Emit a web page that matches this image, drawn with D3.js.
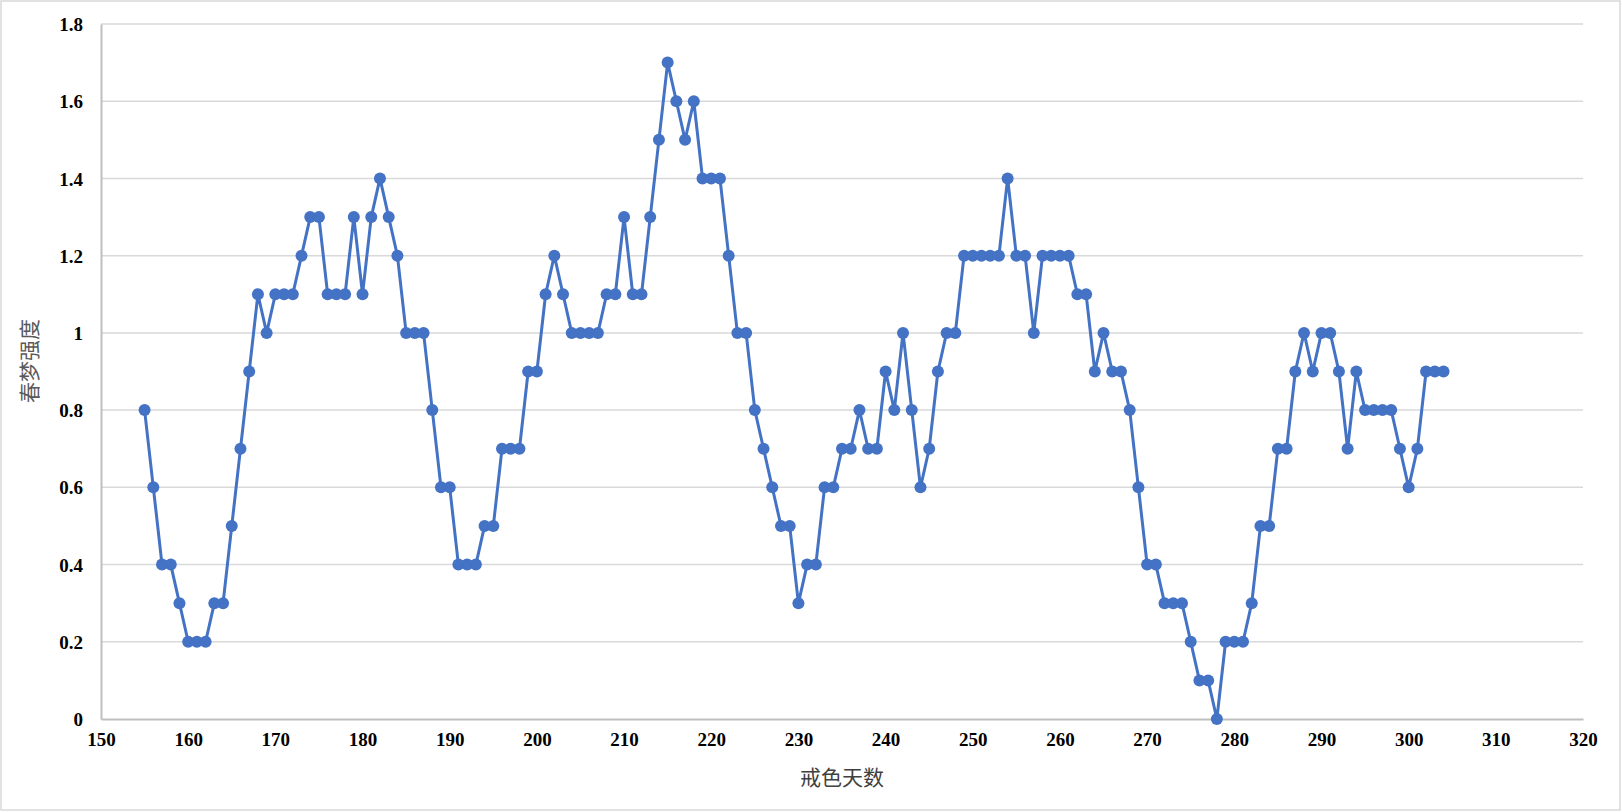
<!DOCTYPE html>
<html>
<head>
<meta charset="utf-8">
<script src="https://cdn.jsdelivr.net/npm/d3@7"></script>
<style>
    html, body { margin: 0; padding: 0; background: #fff; }
    svg { display: block; }
</style>
</head>
<body>
<svg id="chart"></svg>
<script>
// days without relapse, one point per day
const days = d3.range(155, 305);
const strength = [
    0.8, 0.6, 0.4, 0.4, 0.3, 0.2, 0.2, 0.2, 0.3, 0.3,
    0.5, 0.7, 0.9, 1.1, 1.0, 1.1, 1.1, 1.1, 1.2, 1.3,
    1.3, 1.1, 1.1, 1.1, 1.3, 1.1, 1.3, 1.4, 1.3, 1.2,
    1.0, 1.0, 1.0, 0.8, 0.6, 0.6, 0.4, 0.4, 0.4, 0.5,
    0.5, 0.7, 0.7, 0.7, 0.9, 0.9, 1.1, 1.2, 1.1, 1.0,
    1.0, 1.0, 1.0, 1.1, 1.1, 1.3, 1.1, 1.1, 1.3, 1.5,
    1.7, 1.6, 1.5, 1.6, 1.4, 1.4, 1.4, 1.2, 1.0, 1.0,
    0.8, 0.7, 0.6, 0.5, 0.5, 0.3, 0.4, 0.4, 0.6, 0.6,
    0.7, 0.7, 0.8, 0.7, 0.7, 0.9, 0.8, 1.0, 0.8, 0.6,
    0.7, 0.9, 1.0, 1.0, 1.2, 1.2, 1.2, 1.2, 1.2, 1.4,
    1.2, 1.2, 1.0, 1.2, 1.2, 1.2, 1.2, 1.1, 1.1, 0.9,
    1.0, 0.9, 0.9, 0.8, 0.6, 0.4, 0.4, 0.3, 0.3, 0.3,
    0.2, 0.1, 0.1, 0.0, 0.2, 0.2, 0.2, 0.3, 0.5, 0.5,
    0.7, 0.7, 0.9, 1.0, 0.9, 1.0, 1.0, 0.9, 0.7, 0.9,
    0.8, 0.8, 0.8, 0.8, 0.7, 0.6, 0.7, 0.9, 0.9, 0.9
];
const xTicks = d3.range(150, 321, 10);
const yTicks = [0, 0.2, 0.4, 0.6, 0.8, 1, 1.2, 1.4, 1.6, 1.8];

const data = days.map((d, i) => [d, strength[i]]);

const width = 1622;
const height = 812;
const margin = { top: 24, right: 39, bottom: 93, left: 101 };
const lineColor = `#4472C4`;

const svg = d3.select(`#chart`)
    .attr(`width`, width)
    .attr(`height`, height);

svg.append(`rect`)
    .attr(`x`, 1)
    .attr(`y`, 1)
    .attr(`width`, width - 3)
    .attr(`height`, height - 3)
    .attr(`fill`, `#fff`)
    .attr(`stroke`, `#d9d9d9`)
    .attr(`stroke-width`, 1.5);

const x = d3.scaleLinear()
    .domain([150, 320])
    .range([margin.left, width - margin.right]);

const y = d3.scaleLinear()
    .domain([0, 1.8])
    .range([height - margin.bottom, margin.top]);

// gridlines
svg.append(`g`)
    .selectAll(`line`)
    .data(yTicks.filter(t => t > 0))
    .enter().append(`line`)
        .attr(`x1`, x(150))
        .attr(`x2`, x(320))
        .attr(`y1`, d => y(d))
        .attr(`y2`, d => y(d))
        .attr(`stroke`, `#d9d9d9`)
        .attr(`stroke-width`, 1.5);

const xAxis = d3.axisBottom(x)
    .tickValues(xTicks)
    .tickSize(0)
    .tickPadding(14);

const yAxis = d3.axisLeft(y)
    .tickValues(yTicks)
    .tickSize(0)
    .tickFormat(d3.format(`~g`))
    .tickPadding(18);

const gx = svg.append(`g`)
    .attr(`transform`, `translate(0, ${y(0)})`)
    .call(xAxis);

const gy = svg.append(`g`)
    .attr(`transform`, `translate(${x(150)}, 0)`)
    .call(yAxis);

[gx, gy].forEach(g => {
    g.select(`.domain`)
        .attr(`stroke`, `#bfbfbf`)
        .attr(`stroke-width`, 2);
    g.selectAll(`text`)
        .attr(`font-family`, `"Liberation Serif", "Times New Roman", serif`)
        .attr(`font-weight`, `bold`)
        .attr(`font-size`, `19px`)
        .attr(`fill`, `#000`);
});
gy.selectAll(`text`).attr(`dy`, `0.35em`);

// line + markers
const line = d3.line()
    .x(d => x(d[0]))
    .y(d => y(d[1]));

svg.append(`path`)
    .datum(data)
    .attr(`d`, line)
    .attr(`fill`, `none`)
    .attr(`stroke`, lineColor)
    .attr(`stroke-width`, 3)
    .attr(`stroke-linejoin`, `round`);

svg.append(`g`)
    .selectAll(`circle`)
    .data(data)
    .enter().append(`circle`)
        .attr(`cx`, d => x(d[0]))
        .attr(`cy`, d => y(d[1]))
        .attr(`r`, 6)
        .attr(`fill`, lineColor);

// axis titles
svg.append(`text`)
    .attr(`x`, (x(150) + x(320)) / 2)
    .attr(`y`, 778)
    .attr(`dy`, `0.35em`)
    .attr(`text-anchor`, `middle`)
    .attr(`font-family`, `"Noto Sans CJK SC", sans-serif`)
    .attr(`font-size`, `21px`)
    .attr(`fill`, `#404040`)
    .text(`戒色天数`);

svg.append(`text`)
    .attr(`transform`, `translate(30, 361) rotate(-90)`)
    .attr(`dy`, `0.35em`)
    .attr(`text-anchor`, `middle`)
    .attr(`font-family`, `"Noto Sans CJK SC", sans-serif`)
    .attr(`font-size`, `21px`)
    .attr(`fill`, `#595959`)
    .text(`春梦强度`);
</script>
</body>
</html>
